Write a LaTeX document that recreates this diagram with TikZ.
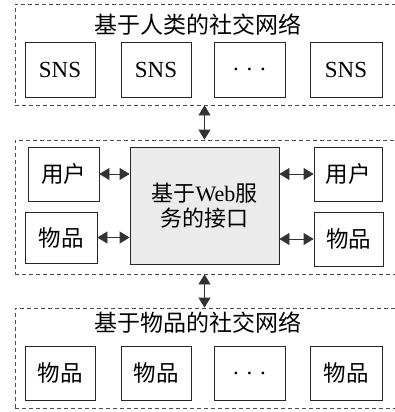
\documentclass[tikz,border=0pt]{standalone}
\usepackage{fontspec}
\setmainfont{Liberation Serif}
\newfontfamily\cjk{Noto Sans CJK SC}
\usetikzlibrary{arrows.meta}

\begin{document}
\begin{tikzpicture}[x=1pt,y=-1pt,
  frame/.style={draw=black!70,dashed,line width=0.8pt,dash pattern=on 4pt off 3pt},
  unit/.style={draw=black!85,line width=0.8pt,font=\fontsize{23}{27}\selectfont},
  cunit/.style={unit,font=\cjk\fontsize{22.5}{27}\selectfont},
  hub/.style={unit,fill=black!8,align=center,font=\fontsize{22}{25}\selectfont},
  title/.style={font=\cjk\fontsize{23}{27}\selectfont},
  link/.style={{Triangle[length=10pt,width=12pt]}-{Triangle[length=10pt,width=12pt]},black!80,line width=0.8pt}]
\useasboundingbox (0,0) rectangle (395,412);
\clip (0,0) rectangle (395,412);

% three layers
\node[frame,minimum width=385pt,minimum height=101pt] (sns) at (207.5,54.5) {};
\node[frame,minimum width=385pt,minimum height=134pt] (web) at (207.5,207) {};
\node[frame,minimum width=385pt,minimum height=100pt] (iot) at (207.5,358) {};

\node[title] (snsname) at (198,25) {基于人类的社交网络};
\node[title] (iotname) at (198,323) {基于物品的社交网络};

% top row
\node[unit,minimum width=70pt,minimum height=55pt] (s1) at (60,69.5) {SNS};
\node[unit,minimum width=70pt,minimum height=55pt] (s2) at (156,69.5) {SNS};
\node[unit,minimum width=71pt,minimum height=55pt] (s3) at (249.5,69.5) {. . .};
\node[unit,minimum width=72pt,minimum height=55pt] (s4) at (346,69.5) {SNS};

% middle
\node[hub,minimum width=149pt,minimum height=117pt] (api) at (204.5,205.5) {{\cjk 基于}Web{\cjk 服}\\{\cjk 务的接口}};
\node[cunit,minimum width=71pt,minimum height=54pt] (u1) at (63.5,174) {用户};
\node[cunit,minimum width=72pt,minimum height=51pt] (o1) at (61,237.5) {物品};
\node[cunit,minimum width=68pt,minimum height=54pt] (u2) at (348,174) {用户};
\node[cunit,minimum width=69pt,minimum height=54pt] (o2) at (348.5,239) {物品};

% bottom row
\node[cunit,minimum width=70pt,minimum height=54pt] (t1) at (60,373) {物品};
\node[cunit,minimum width=70pt,minimum height=54pt] (t2) at (156,373) {物品};
\node[unit,minimum width=71pt,minimum height=54pt] (t3) at (249.5,373) {. . .};
\node[cunit,minimum width=72pt,minimum height=54pt] (t4) at (346,373) {物品};

% links
\draw[link] (sns.south -| api.north) -- (web.north -| api.north);
\draw[link] (web.south -| api.south) -- (iot.north -| api.south);
\draw[link] (u1.east) -- (api.west |- u1.east);
\draw[link] (o1.east) -- (api.west |- o1.east);
\draw[link] (api.east |- u2.west) -- (u2.west);
\draw[link] (api.east |- o2.west) -- (o2.west);
\end{tikzpicture}
\end{document}
